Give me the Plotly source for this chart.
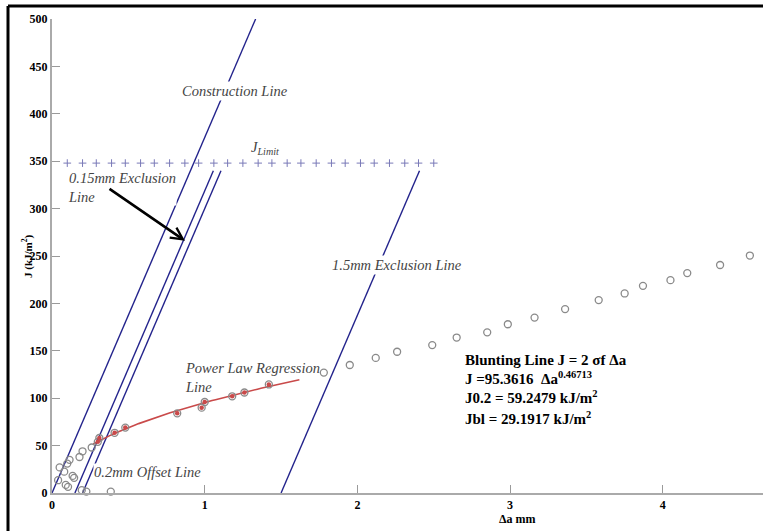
import numpy as np
import plotly.graph_objects as go

# Crack growth (mm) and J-integral (kJ/m^2) test points
da_pts = [0.04, 0.05, 0.08, 0.10, 0.115, 0.135, 0.145, 0.09, 0.105, 0.18, 0.20, 0.26,
          0.195, 0.225, 0.385,
          0.30, 0.31, 0.41, 0.48, 0.82, 0.98, 1.00, 1.18, 1.26, 1.42,
          1.78, 1.95, 2.12, 2.26, 2.49, 2.65, 2.85, 2.985, 3.16, 3.36, 3.58, 3.75,
          3.87, 4.05, 4.16, 4.375, 4.57]
j_pts = [13.5, 27, 22.5, 31, 35, 18, 16, 8.5, 6.5, 38, 44, 48,
         3, 1.5, 1.5,
         54, 58, 63.5, 69, 84, 90, 96, 102, 106, 114.5,
         127, 135, 142.5, 149, 156, 164, 169.5, 178, 185, 194, 203.5, 210.5,
         218.5, 224.5, 232, 240.5, 250.5]

# Points used for the power-law fit
fit_da = [0.30, 0.31, 0.41, 0.48, 0.82, 0.98, 1.00, 1.18, 1.26, 1.42]
fit_j = [54, 58, 63.5, 69, 84, 90, 96, 102, 106, 114.5]

# Power law J = C * da^n
fit_c = 95.3616
fit_n = 0.46713
fit_range = [0.27, 1.62]

# Blunting/construction line slope and offset lines
blunt_slope = 375.0
line_offsets = [0.0, 0.15, 0.2, 1.5]
line_tops = [500, 340, 340, 340]

# J limit
j_limit = 348
j_limit_da = [0.10, 0.20, 0.29, 0.39, 0.48, 0.58, 0.67, 0.77, 0.87, 0.96, 1.06, 1.15, 1.25,
              1.35, 1.44, 1.54, 1.63, 1.73, 1.83, 1.92, 2.02, 2.11, 2.21, 2.31, 2.40, 2.50]

x_ticks = [0, 1, 2, 3, 4]
y_ticks = [0, 50, 100, 150, 200, 250, 300, 350, 400, 450, 500]

NAVY = "#23238c"
RED = "#c94a4a"
GREY = "#8a8a8a"
SERIF = "Liberation Serif"

fig = go.Figure()

# Construction and exclusion lines
for off, top in zip(line_offsets, line_tops):
    fig.add_trace(go.Scatter(
        x=[off, off + top / blunt_slope], y=[0, top], mode="lines",
        line=dict(color=NAVY, width=1.4), showlegend=False, hoverinfo="skip"))

# J limit
fig.add_trace(go.Scatter(
    x=j_limit_da, y=[j_limit] * len(j_limit_da), mode="markers",
    marker=dict(symbol="cross-thin", size=5.5, color="#7a7ab8",
                line=dict(color="#7a7ab8", width=1)),
    showlegend=False, cliponaxis=False))

# Power law regression curve
fx = np.linspace(fit_range[0], fit_range[1], 60)
fig.add_trace(go.Scatter(
    x=fx, y=fit_c * fx ** fit_n, mode="lines",
    line=dict(color=RED, width=1.6), showlegend=False, hoverinfo="skip"))

# Test data
fig.add_trace(go.Scatter(
    x=da_pts, y=j_pts, mode="markers",
    marker=dict(symbol="circle-open", size=7, color=GREY, line=dict(color=GREY, width=1.3)),
    showlegend=False, cliponaxis=False))
fig.add_trace(go.Scatter(
    x=fit_da, y=fit_j, mode="markers",
    marker=dict(symbol="circle", size=4.5, color=RED),
    showlegend=False, cliponaxis=False))

ital = dict(family=SERIF, size=14.5, color="#444444", style="italic")
bold = dict(family=SERIF, size=15, color="black", weight="bold")

ann = [
    dict(x=1.2, y=424, text="Construction Line", font=ital, bgcolor="white"),
    dict(x=1.4, y=364, text="J<sub>Limit</sub>", font=ital),
    dict(x=0.098, y=322, text="0.15mm Exclusion<br>Line", font=ital, xanchor="left",
         align="left", bgcolor="white", borderpad=0),
    dict(x=2.26, y=240, text="1.5mm Exclusion Line", font=ital, bgcolor="white"),
    dict(x=0.855, y=122, text="Power Law Regression<br>Line", font=ital, xanchor="left",
         align="left"),
    dict(x=0.27, y=22, text="0.2mm Offset Line", font=ital, xanchor="left", bgcolor="white",
         borderpad=0),
    dict(x=2.69, y=140, text="Blunting Line J = 2 σf Δa", font=bold, xanchor="left"),
    dict(x=2.69, y=121, text="J =95.3616  Δa<sup>0.46713</sup>", font=bold, xanchor="left"),
    dict(x=2.69, y=101, text="J0.2 = 59.2479 kJ/m<sup>2</sup>", font=bold, xanchor="left"),
    dict(x=2.69, y=79, text="Jbl = 29.1917 kJ/m<sup>2</sup>", font=bold, xanchor="left"),
]
for a in ann:
    a.setdefault("showarrow", False)
    fig.add_annotation(**a)

# Arrow pointing at the 0.15 mm exclusion line
fig.add_annotation(x=0.871, y=266, ax=-77, ay=-53, text="", showarrow=True,
                   arrowhead=5, arrowsize=0.9, arrowwidth=2.6, arrowcolor="black")

# Axis titles
fig.add_annotation(x=3.05, y=0, yshift=-26, text="Δa mm", showarrow=False,
                   font=dict(family=SERIF, size=12, color="black", weight="bold"))
fig.add_annotation(xref="paper", yref="paper", x=-0.0485, y=0.5, text="J (kJ/m<sup>2</sup>)",
                   textangle=-90, showarrow=False,
                   font=dict(family=SERIF, size=11, color="black", weight="bold"))

# Frame on top and left edges
for x0, y0, x1, y1 in [(8, 6, 8, 531), (8, 6, 763, 6)]:
    fig.add_shape(type="line", xref="paper", yref="paper",
                  x0=(x0 - 52) / 711, x1=(x1 - 52) / 711,
                  y0=(493 - y0) / 474, y1=(493 - y1) / 474,
                  line=dict(color="black", width=3))

tickfont = dict(family=SERIF, size=12, color="black", weight="bold")
fig.update_xaxes(range=[0, 4.656], tickvals=x_ticks, ticks="inside", ticklen=8,
                 tickcolor="#9a9a9a", tickwidth=1.2, showline=True, linecolor="#aaaaaa",
                 linewidth=2, showgrid=False, zeroline=False, tickfont=tickfont)
fig.update_yaxes(range=[0, 500], tickvals=y_ticks, ticks="inside", ticklen=8,
                 tickcolor="#9a9a9a", tickwidth=1.2, showline=True, linecolor="#aaaaaa",
                 linewidth=2, showgrid=False, zeroline=False, tickfont=tickfont)

fig.update_layout(width=763, height=531, margin=dict(l=52, r=0, t=19, b=38),
                  plot_bgcolor="white", paper_bgcolor="white")

fig.write_html("out.html")
